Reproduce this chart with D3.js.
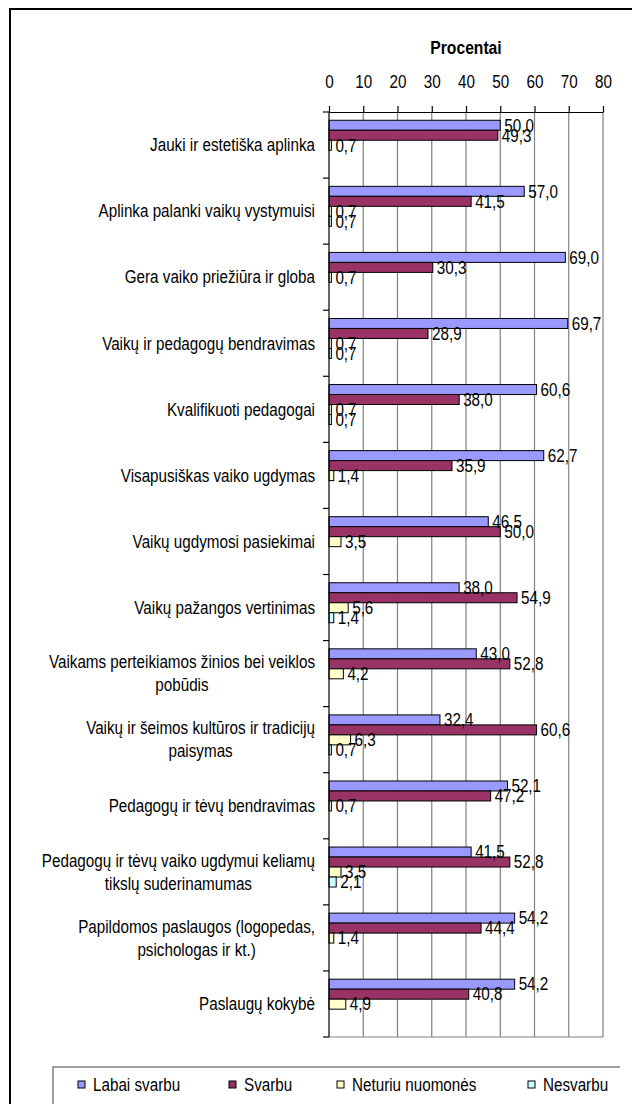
<!DOCTYPE html>
<html>
<head>
<meta charset="utf-8">
<script src="https://cdn.jsdelivr.net/npm/d3@7"></script>
<style>
  html, body { margin: 0; padding: 0; background: #fff; }
  svg { display: block; }
  text { font-family: "Liberation Sans", Arial, sans-serif; fill: #000; }
</style>
</head>
<body>
<div id="chart"></div>
<script>
// ---------- data ----------
const categories = [
  "Jauki ir estetiška aplinka",
  "Aplinka palanki vaikų vystymuisi",
  "Gera vaiko priežiūra ir globa",
  "Vaikų ir pedagogų bendravimas",
  "Kvalifikuoti pedagogai",
  "Visapusiškas vaiko ugdymas",
  "Vaikų ugdymosi pasiekimai",
  "Vaikų pažangos vertinimas",
  "Vaikams perteikiamos žinios bei veiklos\npobūdis",
  "Vaikų ir šeimos kultūros ir tradicijų\npaisymas",
  "Pedagogų ir tėvų bendravimas",
  "Pedagogų ir tėvų vaiko ugdymui keliamų\ntikslų suderinamumas",
  "Papildomos paslaugos (logopedas,\npsichologas ir kt.)",
  "Paslaugų kokybė"
];
const seriesNames = ["Labai svarbu", "Svarbu", "Neturiu nuomonės", "Nesvarbu"];
const labaiSvarbu     = [50.0, 57.0, 69.0, 69.7, 60.6, 62.7, 46.5, 38.0, 43.0, 32.4, 52.1, 41.5, 54.2, 54.2];
const svarbu          = [49.3, 41.5, 30.3, 28.9, 38.0, 35.9, 50.0, 54.9, 52.8, 60.6, 47.2, 52.8, 44.4, 40.8];
const neturiuNuomones = [0.7, 0.7, 0.7, 0.7, 0.7, 1.4, 3.5, 5.6, 4.2, 6.3, 0.7, 3.5, 1.4, 4.9];
const nesvarbu        = [null, 0.7, null, 0.7, 0.7, null, null, 1.4, null, 0.7, null, 2.1, null, null];
const xTicks = [0, 10, 20, 30, 40, 50, 60, 70, 80];
const axisTitle = "Procentai";

// ---------- styles ----------
const seriesValues = [labaiSvarbu, svarbu, neturiuNuomones, nesvarbu];
const colors = ["#9999FF", "#993366", "#FFFFCC", "#CCFFFF"];
const FS = 17.5, SX = 0.87;
const W = 632, H = 1104;
const plot = { left: 329, right: 603, top: 112, bottom: 1037 };

const svg = d3.select("#chart").append("svg").attr("width", W).attr("height", H);
svg.append("rect").attr("width", W).attr("height", H).attr("fill", "#fff");

// outer frame (extends beyond the picture on right/bottom)
svg.append("rect").attr("x", 10).attr("y", 9).attr("width", W + 20).attr("height", H + 20)
  .attr("fill", "none").attr("stroke", "#000").attr("stroke-width", 2);

const x = d3.scaleLinear().domain([0, 80]).range([plot.left, plot.right]);
const y = d3.scaleBand().domain(categories).range([plot.top, plot.bottom]).paddingInner(0).paddingOuter(0);
const bw = y.bandwidth();
const ySub = d3.scaleBand().domain(seriesNames).range([bw * 0.125, bw * 0.125 + bw * 0.605]).padding(0);

// gridlines
svg.append("g").selectAll("line").data(xTicks.filter(d => d > 0)).join("line")
  .attr("x1", d => x(d)).attr("x2", d => x(d))
  .attr("y1", plot.top).attr("y2", plot.bottom)
  .attr("stroke", "#808080").attr("stroke-width", 1.2);
// bottom border
svg.append("line").attr("x1", plot.left).attr("x2", plot.right)
  .attr("y1", plot.bottom).attr("y2", plot.bottom)
  .attr("stroke", "#808080").attr("stroke-width", 1.2);

// top axis
const axisG = svg.append("g").attr("transform", `translate(0,${plot.top})`)
  .call(d3.axisTop(x).tickValues(xTicks).tickSize(6).tickSizeOuter(0).tickPadding(18).tickFormat(d3.format("d")));
axisG.select(".domain").attr("stroke", "#000").attr("stroke-width", 1.2);
axisG.selectAll(".tick line").attr("stroke", "#000").attr("stroke-width", 1.2);
axisG.selectAll(".tick text")
  .attr("font-size", FS).attr("font-family", "Liberation Sans, Arial, sans-serif")
  .attr("fill", "#000")
  .attr("transform", function () { return `translate(0,${d3.select(this).attr("y")}) scale(${SX},1)`; })
  .attr("y", 0);

// title
svg.append("text").attr("transform", `translate(${(plot.left + plot.right) / 2},54) scale(${SX},1)`)
  .attr("text-anchor", "middle").attr("font-size", FS + 0.5).attr("font-weight", "bold").text(axisTitle);

// bars
const rows = categories.map((c, i) => ({ cat: c, vals: seriesNames.map((s, j) => ({ s, j, v: seriesValues[j][i] })) }));
const groups = svg.append("g").selectAll("g").data(rows).join("g")
  .attr("transform", d => `translate(0,${y(d.cat)})`);
groups.selectAll("rect").data(d => d.vals.filter(o => o.v != null)).join("rect")
  .attr("x", x(0))
  .attr("y", d => ySub(d.s))
  .attr("width", d => x(d.v) - x(0))
  .attr("height", ySub.bandwidth())
  .attr("fill", d => colors[d.j])
  .attr("stroke", "#000").attr("stroke-width", 1);

// value labels
groups.selectAll("text.val").data(d => d.vals.filter(o => o.v != null)).join("text")
  .attr("class", "val")
  .attr("transform", d => `translate(${x(d.v) + 4},${ySub(d.s) + ySub.bandwidth() / 2}) scale(${SX},1)`)
  .attr("dy", "0.36em").attr("font-size", FS)
  .text(d => d.v.toFixed(1).replace(".", ","));

// left category axis
const catAxis = svg.append("g");
catAxis.append("line").attr("x1", plot.left).attr("x2", plot.left)
  .attr("y1", plot.top).attr("y2", plot.bottom).attr("stroke", "#000").attr("stroke-width", 1.2);
const bounds = categories.map(c => y(c)).concat([plot.bottom]);
catAxis.selectAll("line.tk").data(bounds).join("line").attr("class", "tk")
  .attr("x1", plot.left - 6).attr("x2", plot.left)
  .attr("y1", d => d).attr("y2", d => d)
  .attr("stroke", "#000").attr("stroke-width", 1.2);

// category labels (block right aligned, lines centered)
const LH = 23;
categories.forEach(c => {
  const lines = c.split("\n");
  const g = svg.append("g").attr("transform", `translate(315,${y(c) + bw / 2}) scale(${SX},1)`);
  const t = g.append("text").attr("font-size", FS).attr("text-anchor", "middle");
  const spans = lines.map((ln, k) => t.append("tspan").attr("x", 0)
    .attr("y", (k - (lines.length - 1) / 2) * LH).attr("dy", "0.36em").text(ln));
  const maxW = d3.max(spans, s => s.node().getComputedTextLength());
  spans.forEach(s => s.attr("x", -maxW / 2));
});

// legend
const legend = svg.append("g");
legend.append("path").attr("d", `M53,${H + 10} V1067 H620`).attr("fill", "none")
  .attr("stroke", "#808080").attr("stroke-width", 1.5);
const legX = [78, 229, 337, 528];
seriesNames.forEach((s, j) => {
  legend.append("rect").attr("x", legX[j]).attr("y", 1081).attr("width", 7).attr("height", 7)
    .attr("fill", colors[j]).attr("stroke", "#000").attr("stroke-width", 1);
  legend.append("text").attr("transform", `translate(${legX[j] + 15},1085) scale(${SX},1)`)
    .attr("dy", "0.36em").attr("font-size", FS).text(s);
});
</script>
</body>
</html>
